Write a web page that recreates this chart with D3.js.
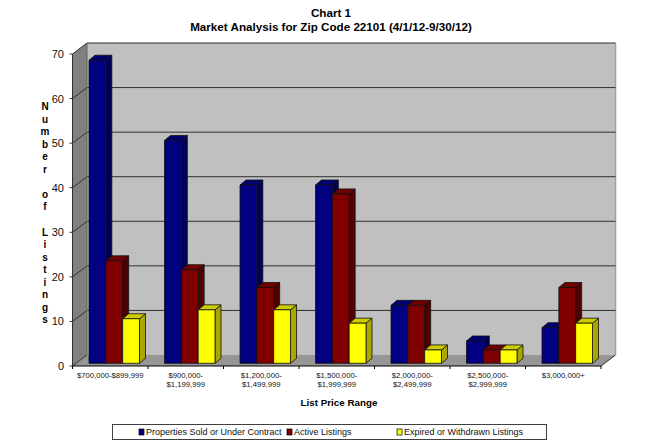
<!DOCTYPE html>
<html><head><meta charset="utf-8">
<script src="https://cdn.jsdelivr.net/npm/d3@7"></script>
<style>html,body{margin:0;padding:0;background:#fff}svg{display:block;font-family:"Liberation Sans",Arial,sans-serif}</style>
</head><body><div id="c"></div>
<script>
const categories=[["$700,000-$899,999"],["$900,000-","$1,199,999"],["$1,200,000-","$1,499,999"],["$1,500,000-","$1,999,999"],["$2,000,000-","$2,499,999"],["$2,500,000-","$2,999,999"],["$3,000,000+"]];
const seriesNames=["Properties Sold or Under Contract","Active Listings","Expired or Withdrawn Listings"];
const sold=[68,50,40,40,13,5,8];
const active=[23,21,17,38,13,3,17];
const expired=[10,12,12,9,3,3,9];
const yTicks=[0,10,20,30,40,50,60,70];
const faceColors=["#000080","#800000","#ffff00"];
const topColors=["#000070","#700000","#cccc00"];
const sideColors=["#000058","#500000","#a8a800"];
const axisTitle="Number of Listings";

const W=655,H=446;
const svg=d3.select("#c").append("svg").attr("width",W).attr("height",H);
const labels=categories.map((c,i)=>i);
const x=d3.scaleBand().domain(labels).range([72.5,601]);
const y=d3.scaleLinear().domain([0,70]).range([366,54]);
const x1=d3.scaleBand().domain([0,1,2]).range([4,x.step()+4]).paddingInner(0).paddingOuter(0.743);
const dX=14.5,dY=-11;      // wall depth
const bX=6,bY=-5,bSink=-2.7; // bar depth and offset from the front of the floor
const dark="#303030";
const poly=a=>a.map(p=>p.join(",")).join(" ");
const [x0,xE]=x.range();

// walls and floor
svg.append("polygon").attr("points",poly([[x0+dX,y(70)+dY],[xE+dX,y(70)+dY],[xE+dX,y(0)+dY],[x0+dX,y(0)+dY]])).attr("fill","#c0c0c0");
svg.append("polygon").attr("points",poly([[x0,y(70)],[x0+dX,y(70)+dY],[x0+dX,y(0)+dY],[x0,y(0)]])).attr("fill","#808080");
svg.append("polygon").attr("points",poly([[x0,y(0)],[x0+dX,y(0)+dY],[xE+dX,y(0)+dY],[xE,y(0)]])).attr("fill","#969696");
svg.append("line").attr("x1",xE+dX).attr("x2",xE+dX).attr("y1",y(70)+dY).attr("y2",y(0)+dY).attr("stroke","#a0a0a0").attr("stroke-width",1.5);

// gridlines
const g=svg.append("g").attr("fill","none").attr("stroke",dark).attr("stroke-width",1);
yTicks.forEach(t=>{
  const pts=[[x0-3,y(t)],[x0,y(t)],[x0+dX,y(t)+dY]];
  if(t>0)pts.push([xE+dX,y(t)+dY]);
  g.append("polyline").attr("points",poly(pts));
});
g.append("line").attr("x1",x0+dX).attr("x2",x0+dX).attr("y1",y(70)+dY).attr("y2",y(0)+dY).attr("stroke","#606060");
g.append("line").attr("x1",x0).attr("x2",x0).attr("y1",y(70)).attr("y2",y(0));
g.append("line").attr("x1",xE).attr("x2",xE+dX).attr("y1",y(0)).attr("y2",y(0)+dY);

// x axis
const xAxis=svg.append("g").attr("transform",`translate(0,${y(0)})`);
xAxis.append("line").attr("x1",x0).attr("x2",xE).attr("stroke","#000");
x.domain().concat([7]).forEach(i=>{
  const px=x0+i*x.step();
  xAxis.append("line").attr("x1",px).attr("x2",px).attr("y1",0).attr("y2",3).attr("stroke","#000");
});

// bars
const barsData=[sold,active,expired];
const groups=svg.selectAll("g.cat").data(labels).join("g").attr("class","cat");
groups.each(function(i){
  const gg=d3.select(this);
  barsData.forEach((vals,s)=>{
    const l=x(i)+x1(s),r=l+x1.bandwidth(),b=y(0)+bSink,t=y(vals[i])+bSink;
    const st=l=>l.attr("stroke","#101010").attr("stroke-width",0.8).attr("stroke-linejoin","round");
    gg.append("polygon").attr("points",poly([[r,t],[r+bX,t+bY],[r+bX,b+bY],[r,b]])).attr("fill",sideColors[s]).call(st);
    gg.append("polygon").attr("points",poly([[l,t],[l+bX,t+bY],[r+bX,t+bY],[r,t]])).attr("fill",topColors[s]).call(st);
    gg.append("rect").attr("x",l).attr("y",t).attr("width",r-l).attr("height",b-t).attr("fill",faceColors[s]).call(st);
  });
});

// y tick labels
svg.selectAll("text.yt").data(yTicks).join("text").attr("class","yt")
  .attr("x",64).attr("y",d=>y(d)+4).attr("text-anchor","end").attr("font-size",11).attr("fill","#111").text(d=>d);

// x tick labels
categories.forEach((c,i)=>{
  c.forEach((ln,j)=>{
    svg.append("text").attr("x",x(i)+x.bandwidth()/2).attr("y",y(0)+12+j*9)
      .attr("text-anchor","middle").attr("font-size",7.7).attr("fill","#111").text(ln);
  });
});

// titles
svg.append("text").attr("x",331).attr("y",17).attr("text-anchor","middle").attr("font-size",11.65).attr("font-weight","bold").text("Chart 1");
svg.append("text").attr("x",331).attr("y",31).attr("text-anchor","middle").attr("font-size",11.65).attr("font-weight","bold").text("Market Analysis for Zip Code 22101 (4/1/12-9/30/12)");
svg.append("text").attr("x",339).attr("y",406).attr("text-anchor","middle").attr("font-size",9.8).attr("font-weight","bold").text("List Price Range");
axisTitle.split("").forEach((ch,i)=>{
  if(ch===" ")return;
  svg.append("text").attr("x",45).attr("y",110+i*12.55).attr("text-anchor","middle").attr("font-size",10).attr("font-weight","bold").text(ch);
});

// legend
svg.append("rect").attr("x",112.5).attr("y",424.5).attr("width",434).attr("height",15).attr("fill","#fff").attr("stroke","#404040").attr("stroke-width",1);
const legendX=[139,287,397];
seriesNames.forEach((n,i)=>{
  svg.append("rect").attr("x",legendX[i]).attr("y",429).attr("width",5).attr("height",6).attr("fill",faceColors[i]).attr("stroke","#000").attr("stroke-width",0.7);
  svg.append("text").attr("x",legendX[i]+7).attr("y",435).attr("font-size",9).attr("fill","#111").text(n);
});
</script></body></html>
